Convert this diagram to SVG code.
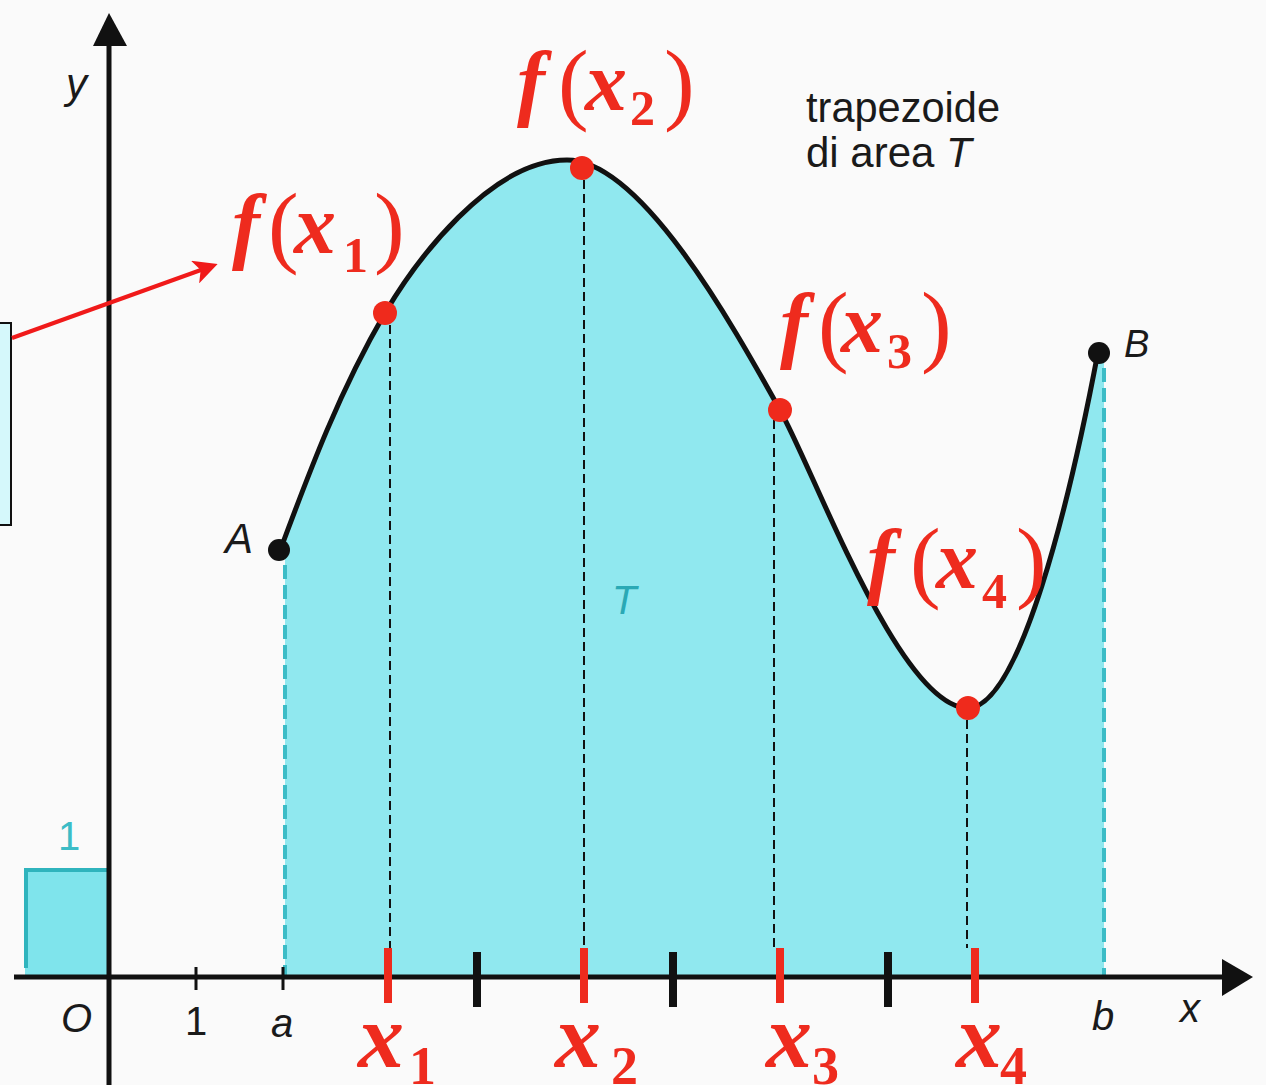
<svg xmlns="http://www.w3.org/2000/svg" width="1266" height="1085" viewBox="0 0 1266 1085">
<defs>
<style>
.lbl{font-family:"Liberation Sans",Arial,sans-serif;fill:#1a1a1a}
.it{font-style:italic}
.rm{font-family:"Liberation Serif","Times New Roman",serif;fill:#ee2b1e}
.rf{font-style:italic;font-weight:bold;font-size:84px}
.rp{font-style:normal;font-weight:normal;font-size:92px}
.rs{font-style:normal;font-weight:bold;font-size:50px}
.rx{font-style:italic;font-weight:bold;font-size:92px}
.rsb{font-style:normal;font-weight:bold;font-size:54px}
.vd{stroke:#111;stroke-width:2;stroke-dasharray:9 5}
.cd{stroke:#3cbcc6;stroke-width:4;stroke-dasharray:14 6}
.rt{stroke:#ee2b1e;stroke-width:8}
.bt{stroke:#111;stroke-width:8}
.rdot{fill:#ef2a1c}
</style>
<marker id="ah" markerWidth="6" markerHeight="6" refX="4.5" refY="3" orient="auto" markerUnits="strokeWidth">
<path d="M0,0 L6,3 L0,6 L1.5,3 Z" fill="#f01a1a"/>
</marker>
</defs>
<rect width="1266" height="1085" fill="#fafafa"/>

<g id="area">
<path d="M281,548 C310,470 340,390 385,313 C415,262 490,160 567,160 C640,160 730,320 780,410 C815,473 900,708 968,708 C1020,708 1070,500 1098,352 L1104,356 L1104,976 L285,976 L285,552 Z" fill="#90e8ef"/>
<line x1="285" y1="565" x2="285" y2="975" class="cd"/>
<line x1="1104" y1="368" x2="1104" y2="975" class="cd"/>
<text x="612" y="614" font-family="Liberation Sans,Arial,sans-serif" font-style="italic" font-size="40" fill="#2aa9b5">T</text>
</g>

<g id="unit-square">
<rect x="25" y="870" width="84" height="106" fill="#7fe4ec"/>
<path d="M26,968 L26,870 L107,870" fill="none" stroke="#2fb4bd" stroke-width="4"/>
<text x="58" y="850" class="lbl" font-size="40" style="fill:#3cbcc6">1</text>
</g>

<g id="verticals">
<line x1="390" y1="325" x2="390" y2="948" class="vd"/>
<line x1="584" y1="180" x2="584" y2="948" class="vd"/>
<line x1="774" y1="420" x2="774" y2="948" class="vd"/>
<line x1="967" y1="720" x2="967" y2="948" class="vd"/>
</g>

<g id="axes">
<line x1="14" y1="977" x2="1228" y2="977" stroke="#111" stroke-width="5"/>
<path d="M1253,977 L1222,959 L1222,996 Z" fill="#111"/>
<line x1="109" y1="1085" x2="109" y2="40" stroke="#111" stroke-width="5"/>
<path d="M109,13 L93,46 L127,46 Z" fill="#111"/>
<line x1="196" y1="967" x2="196" y2="990" stroke="#111" stroke-width="3"/>
<line x1="283" y1="967" x2="283" y2="990" stroke="#111" stroke-width="3"/>
<text x="66" y="98" class="lbl it" font-size="42">y</text>
<text x="1180" y="1022" class="lbl it" font-size="40">x</text>
<text x="61" y="1032" class="lbl it" font-size="40">O</text>
<text x="185" y="1035" class="lbl" font-size="40">1</text>
<text x="271" y="1037" class="lbl it" font-size="40">a</text>
<text x="1092" y="1030" class="lbl it" font-size="40">b</text>
</g>

<g id="ticks">
<line x1="388" y1="948" x2="388" y2="1003" class="rt"/>
<line x1="584" y1="948" x2="584" y2="1003" class="rt"/>
<line x1="780" y1="948" x2="780" y2="1003" class="rt"/>
<line x1="975" y1="948" x2="975" y2="1003" class="rt"/>
<line x1="477" y1="952" x2="477" y2="1007" class="bt"/>
<line x1="673" y1="952" x2="673" y2="1007" class="bt"/>
<line x1="888" y1="952" x2="888" y2="1007" class="bt"/>
</g>

<g id="curve">
<path d="M281,548 C310,470 340,390 385,313 C415,262 490,160 567,160 C640,160 730,320 780,410 C815,473 900,708 968,708 C1020,708 1070,500 1098,352" fill="none" stroke="#111" stroke-width="5"/>
</g>

<g id="point-A">
<circle cx="279" cy="550" r="11" fill="#111"/>
<text x="225" y="553" class="lbl it" font-size="42">A</text>
</g>
<g id="point-B">
<circle cx="1099" cy="353" r="11" fill="#111"/>
<text x="1124" y="357" class="lbl it" font-size="38">B</text>
</g>

<g id="dots">
<circle cx="385" cy="313" r="12" class="rdot"/>
<circle cx="582" cy="168" r="12" class="rdot"/>
<circle cx="780" cy="410" r="12" class="rdot"/>
<circle cx="968" cy="708" r="12" class="rdot"/>
</g>

<g id="label-fx1">
<text class="rm rf" x="232" y="253">f<tspan class="rp" x="268" y="256">(</tspan><tspan x="294" y="253">x</tspan><tspan class="rs" x="343" y="272">1</tspan><tspan class="rp" x="374" y="256">)</tspan></text>
</g>
<g id="label-fx2">
<text class="rm rf" x="517" y="110">f<tspan class="rp" x="558" y="113">(</tspan><tspan x="585" y="110">x</tspan><tspan class="rs" x="630" y="125">2</tspan><tspan class="rp" x="664" y="113">)</tspan></text>
</g>
<g id="label-fx3">
<text class="rm rf" x="780" y="352">f<tspan class="rp" x="818" y="355">(</tspan><tspan x="841" y="352">x</tspan><tspan class="rs" x="887" y="368">3</tspan><tspan class="rp" x="921" y="355">)</tspan></text>
</g>
<g id="label-fx4">
<text class="rm rf" x="867" y="588">f<tspan class="rp" x="910" y="591">(</tspan><tspan x="936" y="588">x</tspan><tspan class="rs" x="982" y="608">4</tspan><tspan class="rp" x="1016" y="591">)</tspan></text>
</g>

<g id="xlabels">
<text class="rm rx" x="358" y="1067">x<tspan class="rsb" x="409" y="1084">1</tspan></text>
<text class="rm rx" x="555" y="1067">x<tspan class="rsb" x="611" y="1084">2</tspan></text>
<text class="rm rx" x="766" y="1067">x<tspan class="rsb" x="812" y="1084">3</tspan></text>
<text class="rm rx" x="956" y="1067">x<tspan class="rsb" x="1000" y="1084">4</tspan></text>
</g>

<g id="title">
<text x="806" y="122" class="lbl" font-size="42" textLength="194" lengthAdjust="spacingAndGlyphs">trapezoide</text>
<text x="806" y="167" class="lbl" font-size="42">di area <tspan class="it">T</tspan></text>
</g>

<g id="callout-box">
<rect x="-3" y="323" width="14" height="202" fill="#d5f8fb" stroke="#111" stroke-width="2"/>
</g>

<g id="connectors">
<line x1="12" y1="338" x2="212" y2="266" stroke="#f01a1a" stroke-width="4" marker-end="url(#ah)"/>
</g>
</svg>
